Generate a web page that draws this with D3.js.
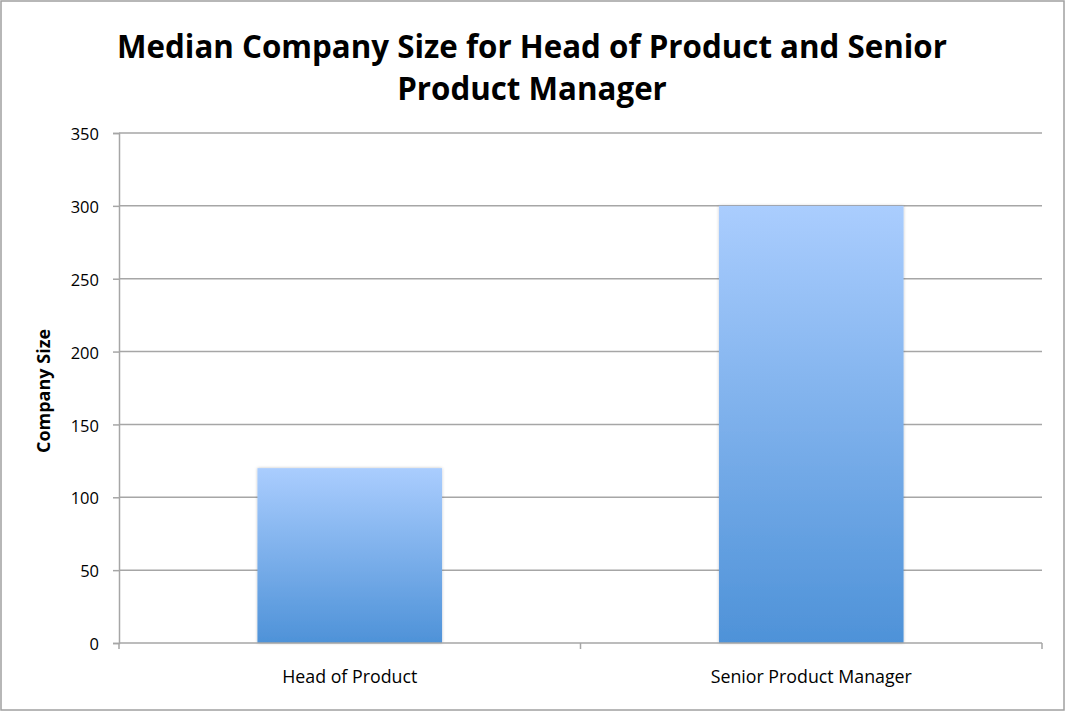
<!DOCTYPE html>
<html><head><meta charset="utf-8">
<script src="https://cdn.jsdelivr.net/npm/d3@7"></script>
<style>body{margin:0;background:#fff}svg{display:block}</style>
</head><body>
<script>
const categories = ["Head of Product", "Senior Product Manager"];
const values = [120, 300];
const yTicks = [0, 50, 100, 150, 200, 250, 300, 350];
const titleLines = ["Median Company Size for Head of Product and Senior", "Product Manager"];
const yAxisTitle = "Company Size";

const W = 1066, H = 712;
const m = {left: 119, right: 1042, top: 133, bottom: 643};
const svg = d3.select("body").append("svg").attr("width", W).attr("height", H);
const font = "'Open Sans', 'Liberation Sans', sans-serif";

svg.append("rect").attr("x", 1).attr("y", 1).attr("width", W - 3).attr("height", H - 3)
  .attr("fill", "#fff").attr("stroke", "#a0a0a0").attr("stroke-width", 1.5);

const defs = svg.append("defs");
const g = defs.append("linearGradient").attr("id", "barg").attr("x1", 0).attr("y1", 0).attr("x2", 0).attr("y2", 1);
g.append("stop").attr("offset", "0%").attr("stop-color", "#AACDFE");
g.append("stop").attr("offset", "100%").attr("stop-color", "#4E92D8");
const f = defs.append("filter").attr("id", "sh").attr("x", "-10%").attr("y", "-10%").attr("width", "120%").attr("height", "120%");
f.append("feDropShadow").attr("dx", 0).attr("dy", 0).attr("stdDeviation", 1.5).attr("flood-color", "#000").attr("flood-opacity", 0.25);

const x = d3.scaleBand().domain(categories).range([m.left, m.right]).paddingInner(0.6).paddingOuter(0.3);
const y = d3.scaleLinear().domain([0, 350]).range([m.bottom, m.top]);

const ya = svg.append("g").attr("transform", `translate(${m.left},0)`)
  .call(d3.axisLeft(y).tickValues(yTicks).tickSize(6).tickPadding(14));
ya.select(".domain").attr("stroke", "#a6a6a6").attr("stroke-width", 1.5);
ya.selectAll(".tick line").attr("stroke", "#a6a6a6").attr("stroke-width", 1.5);
ya.selectAll(".tick text").attr("font-family", font).attr("font-size", 16.5).attr("fill", "#000").attr("dy", "0.4em");
svg.append("g").selectAll("line").data(yTicks.filter(d => d > 0)).join("line")
  .attr("x1", m.left).attr("x2", m.right).attr("y1", d => y(d)).attr("y2", d => y(d))
  .attr("stroke", "#a6a6a6").attr("stroke-width", 1.5);

svg.append("g").selectAll("rect").data(values).join("rect")
  .attr("x", (d, i) => x(categories[i])).attr("width", x.bandwidth())
  .attr("y", d => y(d)).attr("height", d => y(0) - y(d))
  .attr("fill", "url(#barg)").attr("filter", "url(#sh)");

const bounds = [m.left, m.left + (m.right - m.left) / 2, m.right];
svg.append("line").attr("x1", m.left).attr("x2", m.right).attr("y1", y(0)).attr("y2", y(0))
  .attr("stroke", "#a6a6a6").attr("stroke-width", 1.5);
svg.append("g").selectAll("line").data(bounds).join("line")
  .attr("x1", d => d).attr("x2", d => d).attr("y1", y(0)).attr("y2", y(0) + 6)
  .attr("stroke", "#a6a6a6").attr("stroke-width", 1.5);
svg.append("g").selectAll("text").data(categories).join("text")
  .attr("x", d => x(d) + x.bandwidth() / 2).attr("y", 683)
  .attr("text-anchor", "middle").attr("font-family", font).attr("font-size", 17.8).attr("fill", "#000")
  .text(d => d);

svg.append("text").attr("transform", "translate(50,391) rotate(-90)")
  .attr("text-anchor", "middle").attr("font-family", font).attr("font-weight", "bold")
  .attr("font-size", 18).attr("fill", "#000").text(yAxisTitle);

svg.append("g").selectAll("text").data(titleLines).join("text")
  .attr("x", 532).attr("y", (d, i) => 58 + i * 42)
  .attr("text-anchor", "middle").attr("font-family", font).attr("font-weight", "bold")
  .attr("font-size", 31.3).attr("fill", "#000").text(d => d);
</script>
</body></html>
